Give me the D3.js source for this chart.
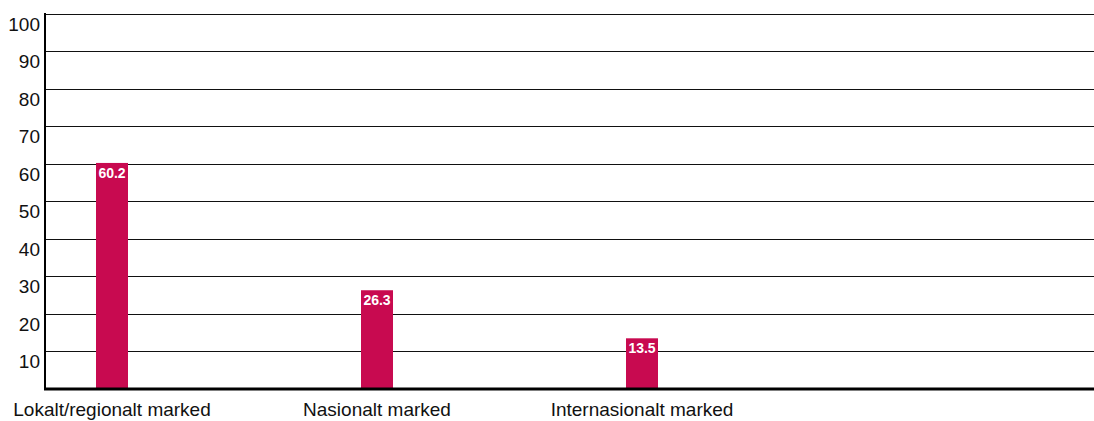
<!DOCTYPE html>
<html>
<head>
<meta charset="utf-8">
<script src="https://cdn.jsdelivr.net/npm/d3@7"></script>
<style>
  html, body { margin: 0; padding: 0; background: #fff; }
  svg { display: block; }
  text { font-family: "Liberation Sans", Arial, sans-serif; fill: #111; }
</style>
</head>
<body>
<div id="chart"></div>
<script>
// data
const categories = ["Lokalt/regionalt marked", "Nasionalt marked", "Internasionalt marked"];
const values = [60.2, 26.3, 13.5];
const yTicks = [10, 20, 30, 40, 50, 60, 70, 80, 90, 100];

const W = 1094, H = 421;
const plot = { left: 45, right: 1094, top: 13.5, bottom: 389 };
const barWidth = 32;

const svg = d3.select("#chart").append("svg")
    .attr("width", W)
    .attr("height", H);

const x = d3.scalePoint()
    .domain(categories)
    .range([112, 642]);

const y = d3.scaleLinear()
    .domain([0, 100])
    .range([plot.bottom, plot.top]);

// gridlines
svg.append("g")
    .selectAll("line")
    .data(yTicks)
    .join("line")
    .attr("x1", plot.left)
    .attr("x2", plot.right)
    .attr("y1", d => Math.round(y(d)) + 0.5)
    .attr("y2", d => Math.round(y(d)) + 0.5)
    .attr("stroke", "#111")
    .attr("stroke-width", 1);

// tick labels (sit just below each gridline)
svg.append("g")
    .selectAll("text")
    .data(yTicks)
    .join("text")
    .attr("x", 40)
    .attr("y", d => y(d) + 17)
    .attr("text-anchor", "end")
    .style("font-size", "19px")
    .text(d => d);

// bars
svg.append("g")
    .selectAll("rect")
    .data(values)
    .join("rect")
    .attr("x", (d, i) => x(categories[i]) - barWidth / 2)
    .attr("y", d => y(d))
    .attr("width", barWidth)
    .attr("height", d => y(0) - y(d))
    .attr("fill", "#c80a50");

// value labels
svg.append("g")
    .selectAll("text")
    .data(values)
    .join("text")
    .attr("x", (d, i) => x(categories[i]))
    .attr("y", d => y(d) + 15)
    .attr("text-anchor", "middle")
    .style("font-size", "14px")
    .style("font-weight", "bold")
    .style("fill", "#fff")
    .text(d => d.toFixed(1));

// axes
svg.append("line")
    .attr("x1", plot.left).attr("x2", plot.left)
    .attr("y1", plot.top - 0.5).attr("y2", plot.bottom)
    .attr("stroke", "#000").attr("stroke-width", 2);

svg.append("line")
    .attr("x1", plot.left - 1).attr("x2", plot.right)
    .attr("y1", plot.bottom).attr("y2", plot.bottom)
    .attr("stroke", "#000").attr("stroke-width", 3);

// category labels
svg.append("g")
    .selectAll("text")
    .data(categories)
    .join("text")
    .attr("x", d => x(d))
    .attr("y", 416)
    .attr("text-anchor", "middle")
    .style("font-size", "19px")
    .text(d => d);
</script>
</body>
</html>
